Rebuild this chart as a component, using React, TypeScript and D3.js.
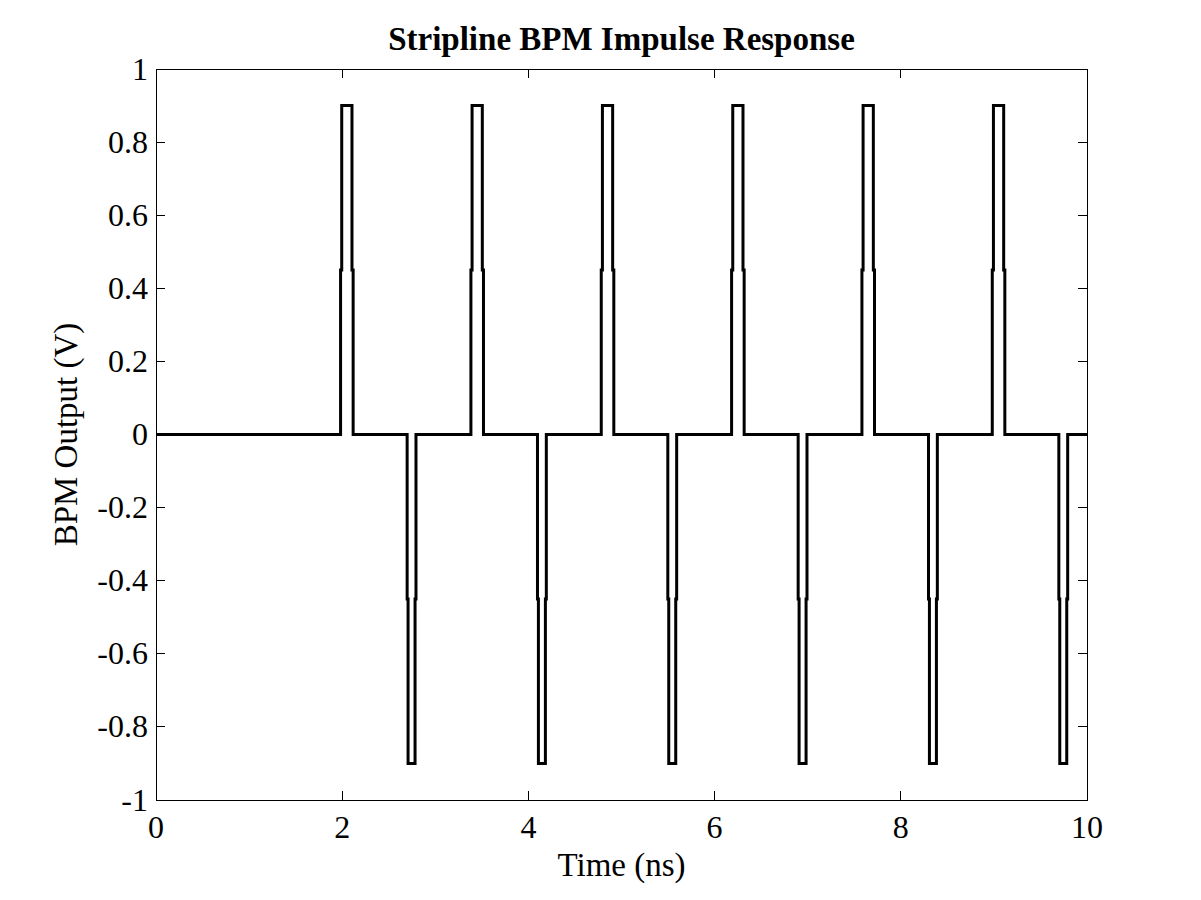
import React from "react";
import * as d3 from "d3";

// Pulse centre times (ns)
const positivePulseCenters = [2.05, 3.45, 4.85, 6.25, 7.65, 9.05];
const negativePulseCenters = [2.745, 4.145, 5.545, 6.945, 8.345, 9.745];
// Pulse amplitudes (V): intermediate step and peak
const stepLevel = 0.45;
const peakLevel = 0.9;
// Pulse widths (ns): [outer (step) width, inner (peak) width]
const positiveWidths = [0.135, 0.11];
const negativeWidths = [0.095, 0.075];

const xTicks = [0, 2, 4, 6, 8, 10];
const yTicks = [-1, -0.8, -0.6, -0.4, -0.2, 0, 0.2, 0.4, 0.6, 0.8, 1];

const W = 1201;
const H = 900;
const M = { left: 156, right: 1087, top: 69, bottom: 800 };

function buildSeries(): [number, number][] {
  const pulses: { c: number; s: number; w: number[] }[] = [];
  positivePulseCenters.forEach((c) => pulses.push({ c, s: 1, w: positiveWidths }));
  negativePulseCenters.forEach((c) => pulses.push({ c, s: -1, w: negativeWidths }));
  pulses.sort((a, b) => a.c - b.c);
  const pts: [number, number][] = [[0, 0]];
  for (const p of pulses) {
    const o = p.w[0] / 2;
    const i = p.w[1] / 2;
    pts.push([p.c - o, 0]);
    pts.push([p.c - o, p.s * stepLevel]);
    pts.push([p.c - i, p.s * stepLevel]);
    pts.push([p.c - i, p.s * peakLevel]);
    pts.push([p.c + i, p.s * peakLevel]);
    pts.push([p.c + i, p.s * stepLevel]);
    pts.push([p.c + o, p.s * stepLevel]);
    pts.push([p.c + o, 0]);
  }
  pts.push([10, 0]);
  return pts;
}

export default function App() {
  const x = d3.scaleLinear().domain([0, 10]).range([M.left, M.right]);
  const y = d3.scaleLinear().domain([-1, 1]).range([M.bottom, M.top]);
  const line = d3
    .line<[number, number]>()
    .x((d) => x(d[0]))
    .y((d) => y(d[1]));
  const data = buildSeries();
  const font = "'Liberation Serif', 'Times New Roman', serif";
  const tickLen = 9;
  const fmt = (v: number) => (Math.abs(v) < 1e-9 ? "0" : String(Math.round(v * 10) / 10));

  return (
    <svg
      width={W}
      height={H}
      style={{ position: "absolute", left: 0, top: 0, background: "#fff" }}
      fontFamily={font}
    >
      <rect x={0} y={0} width={W} height={H} fill="#fff" />
      <rect
        x={M.left}
        y={M.top}
        width={M.right - M.left}
        height={M.bottom - M.top}
        fill="none"
        stroke="#000"
        strokeWidth={1}
        shapeRendering="crispEdges"
      />
      {xTicks.map((t) => (
        <g key={"x" + t}>
          <line x1={x(t)} x2={x(t)} y1={M.bottom} y2={M.bottom - tickLen} stroke="#000" shapeRendering="crispEdges" />
          <line x1={x(t)} x2={x(t)} y1={M.top} y2={M.top + tickLen} stroke="#000" shapeRendering="crispEdges" />
          <text x={x(t)} y={838} fontSize={32} textAnchor="middle" fill="#000">
            {fmt(t)}
          </text>
        </g>
      ))}
      {yTicks.map((t) => (
        <g key={"y" + t}>
          <line x1={M.left} x2={M.left + tickLen} y1={y(t)} y2={y(t)} stroke="#000" shapeRendering="crispEdges" />
          <line x1={M.right} x2={M.right - tickLen} y1={y(t)} y2={y(t)} stroke="#000" shapeRendering="crispEdges" />
          <text x={148} y={y(t) + 10.5} fontSize={32} textAnchor="end" fill="#000">
            {fmt(t)}
          </text>
        </g>
      ))}
      <path d={line(data) || ""} fill="none" stroke="#000" strokeWidth={3} strokeLinejoin="miter" />
      <text x={(M.left + M.right) / 2} y={50} fontSize={33} fontWeight="bold" textAnchor="middle" fill="#000">
        Stripline BPM Impulse Response
      </text>
      <text x={(M.left + M.right) / 2} y={876} fontSize={33} textAnchor="middle" fill="#000">
        Time (ns)
      </text>
      <text
        transform={`translate(77, ${(M.top + M.bottom) / 2}) rotate(-90)`}
        fontSize={33}
        textAnchor="middle"
        fill="#000"
      >
        BPM Output (V)
      </text>
    </svg>
  );
}
